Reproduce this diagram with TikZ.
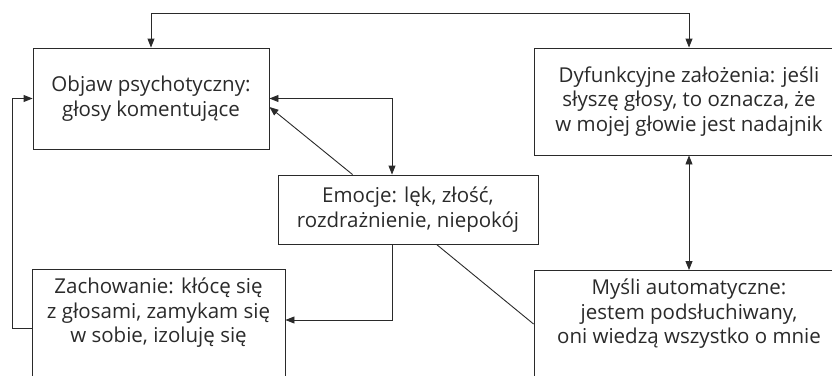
\documentclass[tikz,border=0pt]{standalone}
\usepackage{fontspec}
\setmainfont{Open Sans}
\usetikzlibrary{arrows.meta,calc}
\definecolor{ink}{HTML}{2A2A2A}
\begin{document}
\begin{tikzpicture}[x=1pt,y=-1pt,
  box/.style={draw=ink,line width=0.9pt,text=ink,align=center,inner sep=0pt,
    font=\fontsize{20.5}{24.5}\selectfont},
  conn/.style={draw=ink,line width=0.9pt},
  tip/.style={-{Triangle[length=9pt,width=7pt]}},
  tips/.style={{Triangle[length=9pt,width=7pt]}-{Triangle[length=9pt,width=7pt]}}]
\useasboundingbox (0,0) rectangle (832,375);
\clip (0,0) rectangle (832,375);
\node[box,minimum width=236pt,minimum height=101pt] (A) at (151,98.5)
  {Objaw psychotyczny:\\głosy komentujące};
\node[box,minimum width=310pt,minimum height=107pt] (D) at (689,101.5)
  {Dyfunkcyjne założenia: jeśli\\słyszę głosy, to oznacza, że\\w mojej głowie jest nadajnik};
\node[box,minimum width=260pt,minimum height=69pt] (E) at (408,209.5)
  {Emocje: lęk, złość,\\rozdrażnienie, niepokój};
\node[box,minimum width=253pt,anchor=north,inner ysep=8.5pt,text depth=100pt] (Z) at (158.5,269)
  {Zachowanie: kłócę się\\z głosami, zamykam się\\w sobie, izoluję się};
\node[box,minimum width=310pt,anchor=north,inner ysep=8.5pt,text depth=100pt] (M) at (689,270)
  {Myśli automatyczne:\\jestem podsłuchiwany,\\oni wiedzą wszystko o mnie};
% connectors
\draw[conn,tips] (A.north) -- ++(0,-34) -| (D.north);
\draw[conn,tips] (A.east) -| ($(E.north)+(-16,0)$);
\draw[conn,tip] ($(E.north west)+(75,0)$) -- ($(A.east)+(0,8.5)$);
\draw[conn,tip] ($(E.south)+(-16,0)$) |- ($(Z.north east)+(0,51)$);
\draw[conn,tip] ($(Z.north west)+(0,59)$) -- ++(-19,0) |- (A.west);
\draw[conn,tips] (D.south) -- (M.north);
\draw[conn] ($(E.south west)+(159,0)$) -- ($(M.north west)+(0,54)$);
\end{tikzpicture}
\end{document}
